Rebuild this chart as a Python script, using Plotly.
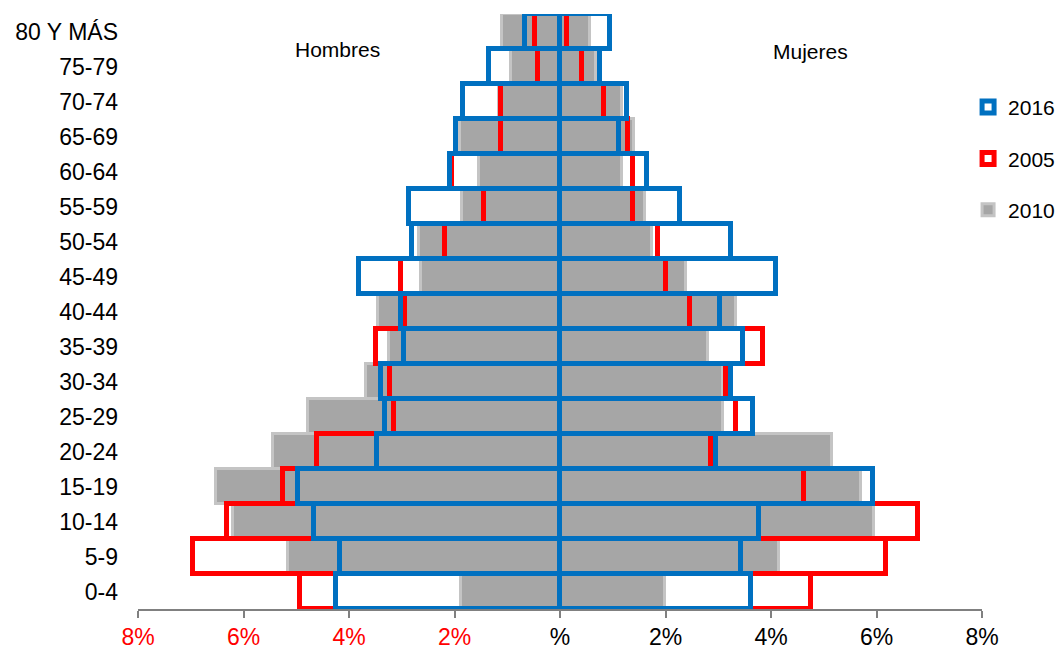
import plotly.graph_objects as go

# ---------------- data ----------------
ages = ["0-4", "5-9", "10-14", "15-19", "20-24", "25-29", "30-34", "35-39",
        "40-44", "45-49", "50-54", "55-59", "60-64", "65-69", "70-74", "75-79",
        "80 Y MÁS"]

# Hombres (negative = left side), % of population
hombres_2010 = [-1.88, -5.16, -6.20, -6.53, -5.44, -4.77, -3.68, -3.24,
                -3.45, -2.64, -2.67, -1.85, -1.53, -1.90, -1.15, -0.92, -1.10]
hombres_2005 = [-4.93, -6.95, -6.31, -5.25, -4.61, -3.14, -3.23, -3.49,
                -2.94, -3.01, -2.18, -1.45, -2.05, -1.12, -1.12, -0.42, -0.47]
hombres_2016 = [-4.25, -4.18, -4.66, -4.97, -3.47, -3.32, -3.39, -2.96,
                -3.01, -3.81, -2.80, -2.87, -2.09, -1.98, -1.84, -1.35, -0.67]

# Mujeres (positive = right side)
mujeres_2010 = [1.99, 4.16, 5.95, 5.70, 5.16, 3.09, 3.09, 2.81,
                3.33, 2.38, 1.75, 1.62, 1.18, 1.40, 1.18, 0.68, 0.57]
mujeres_2005 = [4.75, 6.18, 6.79, 4.63, 2.86, 3.34, 3.15, 3.85,
                2.46, 2.00, 1.86, 1.38, 1.38, 1.29, 0.83, 0.42, 0.13]
mujeres_2016 = [3.63, 3.43, 3.77, 5.94, 2.96, 3.66, 3.25, 3.47,
                3.03, 4.10, 3.25, 2.28, 1.64, 1.12, 1.27, 0.76, 0.95]

x_tick_values = [-8, -6, -4, -2, 0, 2, 4, 6, 8]
x_tick_labels = ["8%", "6%", "4%", "2%", "%", "2%", "4%", "6%", "8%"]

FONT = "Liberation Sans, Arial, sans-serif"
RED = "#FF0000"
BLUE = "#0070C0"

fig = go.Figure()


def add_year(name, men, women, fill, line_color, line_width, rank):
    for vals, show in ((men, True), (women, False)):
        fig.add_trace(go.Bar(
            y=ages, x=vals, orientation="h", name=name, legendgroup=name,
            showlegend=show, legendrank=rank,
            marker=dict(color=fill, line=dict(color=line_color, width=line_width)),
            hoverinfo="x+y+name",
        ))


# drawing order: grey 2010 below, red 2005, blue 2016 on top
add_year("2010", hombres_2010, mujeres_2010, "#A6A6A6", "#C4C4C4", 3, 3)
add_year("2005", hombres_2005, mujeres_2005, "rgba(0,0,0,0)", RED, 5, 2)
add_year("2016", hombres_2016, mujeres_2016, "rgba(0,0,0,0)", BLUE, 5, 1)

tick_text = []
for v, t in zip(x_tick_values, x_tick_labels):
    if v < 0:
        tick_text.append(f"<span style='color:{RED}'>{t}</span>")
    else:
        tick_text.append(t)

fig.update_layout(
    width=1055, height=649,
    margin=dict(l=138, r=73, t=14, b=40, autoexpand=False),
    paper_bgcolor="white", plot_bgcolor="white",
    font=dict(family=FONT, color="black", size=21),
    barmode="overlay", bargap=0,
    xaxis=dict(
        range=[-8, 8], tickvals=x_tick_values, ticktext=tick_text,
        tickfont=dict(size=23, color="black"),
        showline=True, linecolor="#808080", linewidth=1.5,
        ticks="outside", ticklen=7, tickcolor="#808080", tickwidth=1.5,
        showgrid=False, zeroline=False, fixedrange=True,
    ),
    yaxis=dict(
        type="category", range=[-0.5, len(ages) - 0.5],
        tickfont=dict(size=23, color="black"),
        ticks="", showline=False, showgrid=False, zeroline=False,
        ticklabelstandoff=19, fixedrange=True,
    ),
    yaxis2=dict(
        overlaying="y", anchor="free", position=0.5, side="right",
        range=[-0.5, len(ages) - 0.5], tick0=-0.5, dtick=0.5,
        showticklabels=False, ticks="outside", ticklen=4, tickcolor="black",
        showline=True, linecolor="black", linewidth=2,
        showgrid=False, zeroline=False, fixedrange=True,
    ),
    legend=dict(
        x=0.9835, y=0.8774, xanchor="left", yanchor="top",
        traceorder="grouped", tracegroupgap=21,
        font=dict(size=21, family=FONT), bgcolor="rgba(0,0,0,0)",
    ),
    annotations=[
        dict(text="Hombres", x=-4.22, y=0.94, xref="x", yref="paper",
             xanchor="center", yanchor="middle",
             showarrow=False, font=dict(size=21, family=FONT)),
        dict(text="Mujeres", x=4.74, y=0.937, xref="x", yref="paper",
             xanchor="center", yanchor="middle",
             showarrow=False, font=dict(size=21, family=FONT)),
    ],
)

fig.write_html("out.html")
